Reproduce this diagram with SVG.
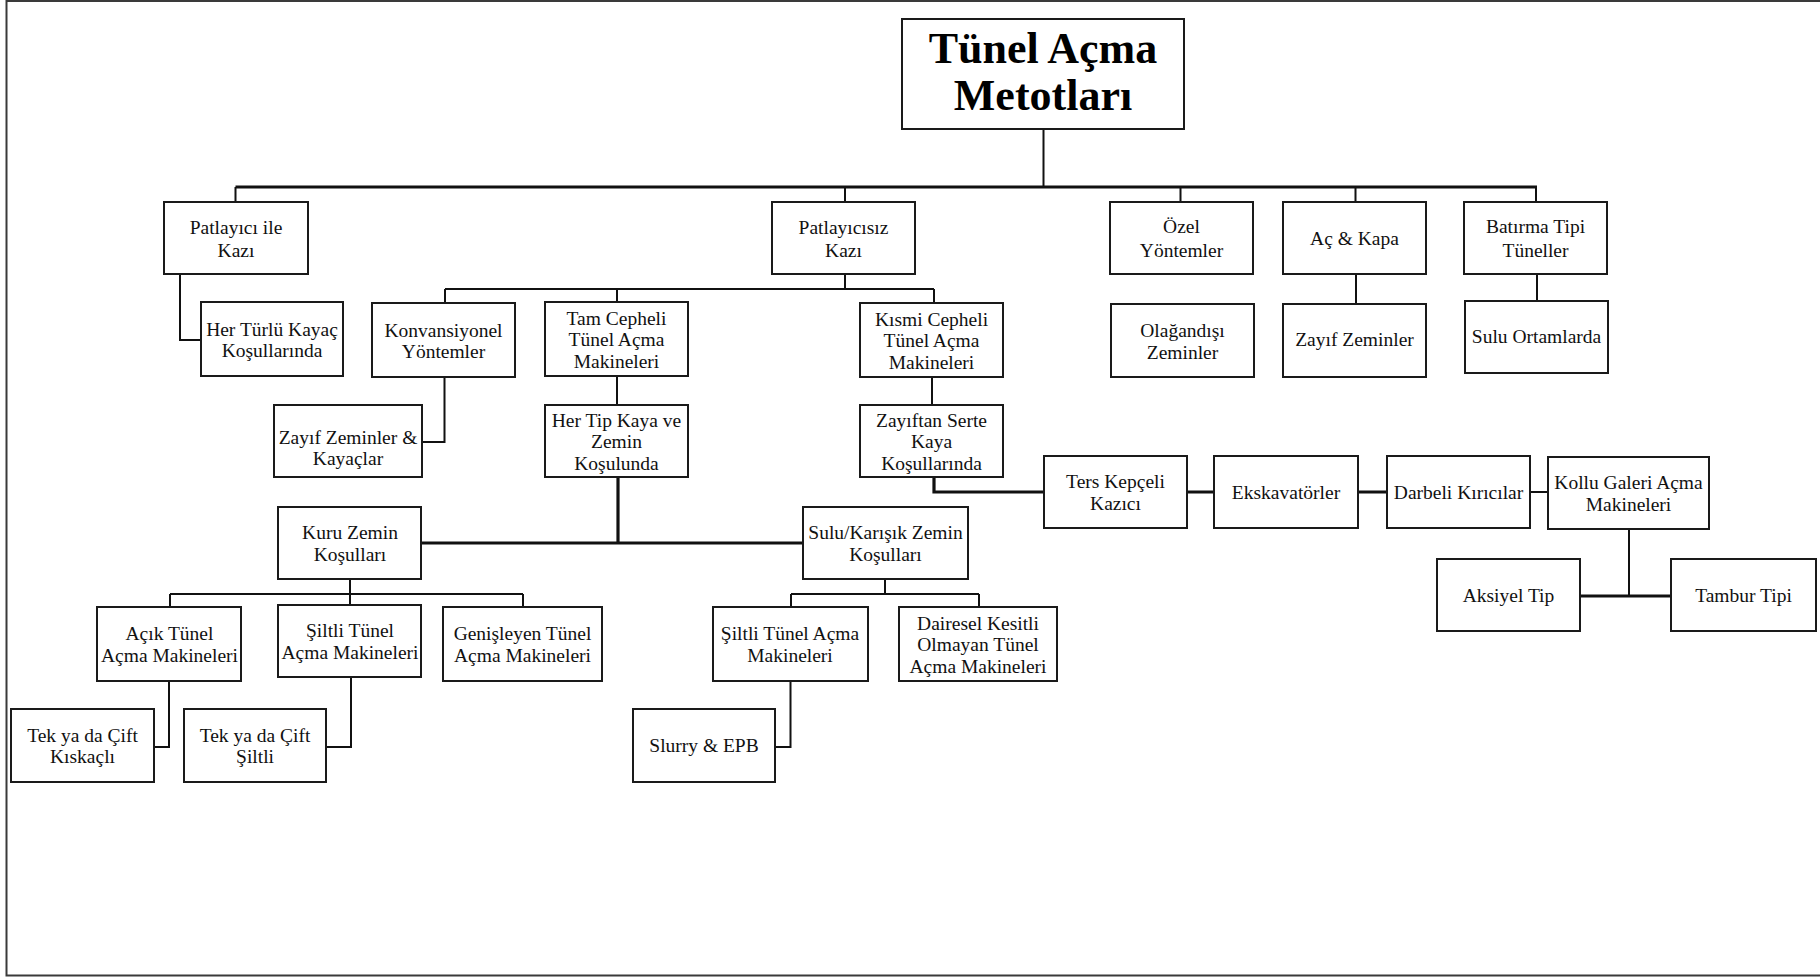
<svg xmlns="http://www.w3.org/2000/svg" width="1820" height="977" viewBox="0 0 1820 977">
<style>
.bg{fill:#ffffff}
.frame{fill:none;stroke:#3a3a3a;stroke-width:2}
.box{fill:#ffffff;stroke:#1a1a1a;stroke-width:2}
.c{fill:none;stroke:#111;stroke-width:2}
.ct{fill:none;stroke:#111;stroke-width:3.2}
.t{font-family:"Liberation Serif","Times New Roman",serif;font-size:19.5px;fill:#111;text-anchor:middle}
.title{font-family:"Liberation Serif","Times New Roman",serif;font-size:44px;font-weight:bold;fill:#000;text-anchor:middle}
</style>
<rect class="bg" x="0" y="0" width="1820" height="977"/>
<path class="frame" d="M1820,1 H6.5 V975.5 H1820"/>

<g id="connectors">
<path class="c" d="M1043.5,129 V187"/>
<path class="ct" d="M235.5,187 H1537"/>
<path class="c" d="M235.5,187 V202 M845,187 V202 M1180.5,187 V202 M1355.5,187 V202 M1536,187 V202"/>
<path class="c" d="M180,274 V340 H201"/>
<path class="c" d="M845,274 V289 M445,289 H934 M445,289 V303 M617,289 V302 M934,289 V303"/>
<path class="c" d="M444.5,377 V442 H422"/>
<path class="c" d="M617,376 V405"/>
<path class="c" d="M932,377 V405"/>
<path class="ct" d="M934,477 V492 H1044"/>
<path class="ct" d="M1187,492 H1214 M1358,492 H1387"/>
<path class="c" d="M1530,492 H1548"/>
<path class="c" d="M1629,529 V596"/>
<path class="ct" d="M1580,596 H1671"/>
<path class="c" d="M1356,274 V304 M1537,274 V301"/>
<path class="ct" d="M618,477 V543"/>
<path class="ct" d="M421,543 H803"/>
<path class="c" d="M350,579 V594 M170,594 H523 M170,594 V607 M350,594 V605 M523,594 V607"/>
<path class="c" d="M885,579 V594 M791,594 H979 M791,594 V607 M979,594 V607"/>
<path class="c" d="M169,681 V747 H154"/>
<path class="c" d="M351,677 V747 H326"/>
<path class="c" d="M790.5,681 V747 H775"/>
</g>

<g id="n_title"><rect class="box" x="902" y="19" width="282" height="110"/>
<text class="title"><tspan x="1043" y="63">Tünel Açma</tspan><tspan x="1043" y="110">Metotları</tspan></text></g>

<g id="n_patlayici"><rect class="box" x="164" y="202" width="144" height="72"/>
<text class="t"><tspan x="236" y="234">Patlayıcı ile</tspan><tspan x="236" y="257">Kazı</tspan></text></g>

<g id="n_patlayicisiz"><rect class="box" x="772" y="202" width="143" height="72"/>
<text class="t"><tspan x="843.5" y="234">Patlayıcısız</tspan><tspan x="843.5" y="257">Kazı</tspan></text></g>

<g id="n_ozel"><rect class="box" x="1110" y="202" width="143" height="72"/>
<text class="t"><tspan x="1181.5" y="233">Özel</tspan><tspan x="1181.5" y="257">Yöntemler</tspan></text></g>

<g id="n_ackapa"><rect class="box" x="1283" y="202" width="143" height="72"/>
<text class="t"><tspan x="1354.5" y="245">Aç &amp; Kapa</tspan></text></g>

<g id="n_batirma"><rect class="box" x="1464" y="202" width="143" height="72"/>
<text class="t"><tspan x="1535.5" y="233">Batırma Tipi</tspan><tspan x="1535.5" y="257">Tüneller</tspan></text></g>

<g id="n_herturlu"><rect class="box" x="201" y="302" width="142" height="74"/>
<text class="t"><tspan x="272" y="335.5">Her Türlü Kayaç</tspan><tspan x="272" y="357">Koşullarında</tspan></text></g>

<g id="n_konv"><rect class="box" x="372" y="303" width="143" height="74"/>
<text class="t"><tspan x="443.5" y="336.5">Konvansiyonel</tspan><tspan x="443.5" y="358">Yöntemler</tspan></text></g>

<g id="n_tam"><rect class="box" x="545" y="302" width="143" height="74"/>
<text class="t"><tspan x="616.5" y="324.5">Tam Cepheli</tspan><tspan x="616.5" y="346">Tünel Açma</tspan><tspan x="616.5" y="367.5">Makineleri</tspan></text></g>

<g id="n_kismi"><rect class="box" x="860" y="303" width="143" height="74"/>
<text class="t"><tspan x="931.5" y="325.5">Kısmi Cepheli</tspan><tspan x="931.5" y="347">Tünel Açma</tspan><tspan x="931.5" y="368.5">Makineleri</tspan></text></g>

<g id="n_olagan"><rect class="box" x="1111" y="304" width="143" height="73"/>
<text class="t"><tspan x="1182.5" y="337">Olağandışı</tspan><tspan x="1182.5" y="358.5">Zeminler</tspan></text></g>

<g id="n_zayif"><rect class="box" x="1283" y="304" width="143" height="73"/>
<text class="t"><tspan x="1354.5" y="346">Zayıf Zeminler</tspan></text></g>

<g id="n_suluortam"><rect class="box" x="1465" y="301" width="143" height="72"/>
<text class="t"><tspan x="1536.5" y="343">Sulu Ortamlarda</tspan></text></g>

<g id="n_zayifkaya"><rect class="box" x="274" y="405" width="148" height="72"/>
<text class="t"><tspan x="348" y="443.5">Zayıf Zeminler &amp;</tspan><tspan x="348" y="465">Kayaçlar</tspan></text></g>

<g id="n_hertip"><rect class="box" x="545" y="405" width="143" height="72"/>
<text class="t"><tspan x="616.5" y="426.5">Her Tip Kaya ve</tspan><tspan x="616.5" y="448">Zemin</tspan><tspan x="616.5" y="469.5">Koşulunda</tspan></text></g>

<g id="n_zayiftan"><rect class="box" x="860" y="405" width="143" height="72"/>
<text class="t"><tspan x="931.5" y="426.5">Zayıftan Serte</tspan><tspan x="931.5" y="448">Kaya</tspan><tspan x="931.5" y="469.5">Koşullarında</tspan></text></g>

<g id="n_ters"><rect class="box" x="1044" y="456" width="143" height="72"/>
<text class="t"><tspan x="1115.5" y="488">Ters Kepçeli</tspan><tspan x="1115.5" y="509.5">Kazıcı</tspan></text></g>

<g id="n_ekskavator"><rect class="box" x="1214" y="456" width="144" height="72"/>
<text class="t"><tspan x="1286" y="499">Ekskavatörler</tspan></text></g>

<g id="n_darbeli"><rect class="box" x="1387" y="456" width="143" height="72"/>
<text class="t"><tspan x="1458.5" y="499">Darbeli Kırıcılar</tspan></text></g>

<g id="n_kollu"><rect class="box" x="1548" y="457" width="161" height="72"/>
<text class="t"><tspan x="1628.5" y="489">Kollu Galeri Açma</tspan><tspan x="1628.5" y="510.5">Makineleri</tspan></text></g>

<g id="n_aksiyel"><rect class="box" x="1437" y="559" width="143" height="72"/>
<text class="t"><tspan x="1508.5" y="602">Aksiyel Tip</tspan></text></g>

<g id="n_tambur"><rect class="box" x="1671" y="559" width="145" height="72"/>
<text class="t"><tspan x="1743.5" y="602">Tambur Tipi</tspan></text></g>

<g id="n_kuru"><rect class="box" x="278" y="507" width="143" height="72"/>
<text class="t"><tspan x="350" y="539">Kuru Zemin</tspan><tspan x="350" y="560.5">Koşulları</tspan></text></g>

<g id="n_sulu"><rect class="box" x="803" y="507" width="165" height="72"/>
<text class="t"><tspan x="885.5" y="539">Sulu/Karışık Zemin</tspan><tspan x="885.5" y="560.5">Koşulları</tspan></text></g>

<g id="n_acik"><rect class="box" x="97" y="607" width="144" height="74"/>
<text class="t"><tspan x="169.5" y="640">Açık Tünel</tspan><tspan x="169.5" y="661.5">Açma Makineleri</tspan></text></g>

<g id="n_siltli"><rect class="box" x="278" y="605" width="143" height="72"/>
<text class="t"><tspan x="350" y="637">Şiltli Tünel</tspan><tspan x="350" y="658.5">Açma Makineleri</tspan></text></g>

<g id="n_genis"><rect class="box" x="443" y="607" width="159" height="74"/>
<text class="t"><tspan x="522.5" y="640">Genişleyen Tünel</tspan><tspan x="522.5" y="661.5">Açma Makineleri</tspan></text></g>

<g id="n_siltli2"><rect class="box" x="713" y="607" width="155" height="74"/>
<text class="t"><tspan x="790" y="640">Şiltli Tünel Açma</tspan><tspan x="790" y="661.5">Makineleri</tspan></text></g>

<g id="n_daire"><rect class="box" x="899" y="607" width="158" height="74"/>
<text class="t"><tspan x="978" y="629.5">Dairesel Kesitli</tspan><tspan x="978" y="651">Olmayan Tünel</tspan><tspan x="978" y="672.5">Açma Makineleri</tspan></text></g>

<g id="n_tek1"><rect class="box" x="11" y="709" width="143" height="73"/>
<text class="t"><tspan x="82.5" y="741.5">Tek ya da Çift</tspan><tspan x="82.5" y="763">Kıskaçlı</tspan></text></g>

<g id="n_tek2"><rect class="box" x="184" y="709" width="142" height="73"/>
<text class="t"><tspan x="255" y="741.5">Tek ya da Çift</tspan><tspan x="255" y="763">Şiltli</tspan></text></g>

<g id="n_slurry"><rect class="box" x="633" y="709" width="142" height="73"/>
<text class="t"><tspan x="704" y="752">Slurry &amp; EPB</tspan></text></g>
</svg>
